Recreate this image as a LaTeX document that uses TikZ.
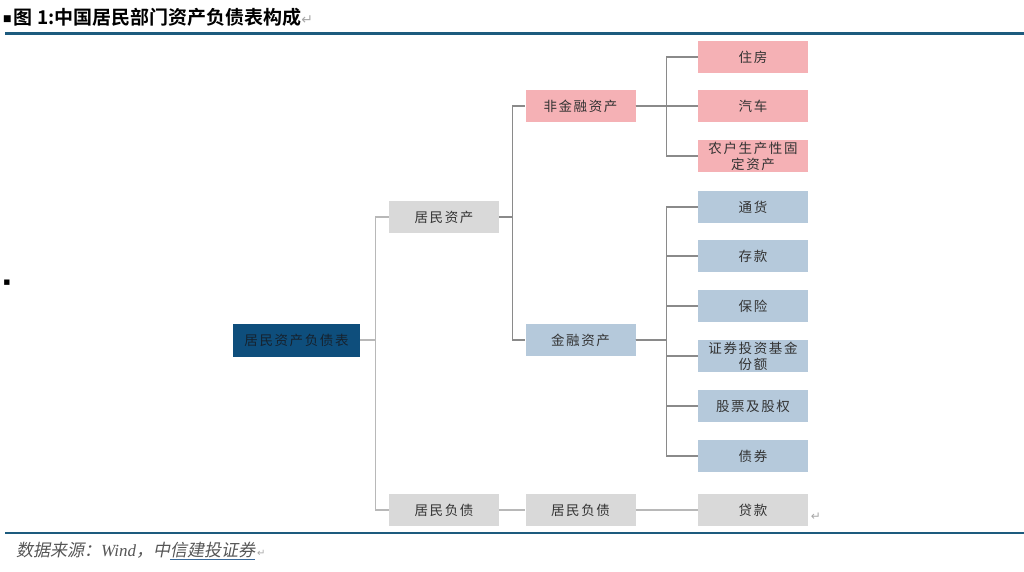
\documentclass[tikz,border=0pt]{standalone}
\usepackage{fontspec}
\usepackage{xcolor}
\usepackage{tikz}
\setmainfont{Noto Sans CJK SC}
\newfontfamily\cjk[BoldFont={Noto Sans CJK SC Bold}]{Noto Sans CJK SC}
\newfontfamily\boxfont[LetterSpace=12]{Noto Sans CJK SC}
\newfontfamily\srcfont[FakeSlant=0.2]{Noto Sans CJK SC}
\newfontfamily\serif{Liberation Serif}
\newfontfamily\symfont{DejaVu Sans}

\definecolor{rootblue}{HTML}{0E4E7C}
\definecolor{boxgray}{HTML}{D9D9D9}
\definecolor{boxpink}{HTML}{F5B1B5}
\definecolor{boxblue}{HTML}{B5C9DB}
\definecolor{rulecol}{HTML}{1D5B7E}
\definecolor{markgray}{HTML}{A8A8A8}
\definecolor{linkgray}{HTML}{8A8A8A}
\definecolor{linklight}{HTML}{B8B8B8}
\definecolor{textdark}{HTML}{333333}
\definecolor{rootText}{HTML}{16222E}
\definecolor{srcgray}{HTML}{555555}
\definecolor{ulblue}{HTML}{3A6A9A}

\begin{document}
\begin{tikzpicture}[x=1pt,y=-1pt]
		\tikzstyle{box}=[minimum width=110pt,minimum height=32pt,inner sep=0pt,text=textdark,align=center,font=\boxfont\fontsize{13.5}{16}\selectfont]
		\tikzstyle{graybox}=[box,fill=boxgray]
		\tikzstyle{pinkbox}=[box,fill=boxpink]
		\tikzstyle{bluebox}=[box,fill=boxblue]
		\tikzstyle{rootbox}=[box,fill=rootblue,text=rootText,minimum width=127pt,minimum height=33pt]
		\tikzstyle{link}=[draw=linkgray,line width=1.1pt]
		\tikzstyle{linkroot}=[draw=linklight,line width=1.1pt]
		\tikzstyle{parmark}=[text=markgray,inner sep=0pt,font=\symfont\fontsize{12}{12}\selectfont]
		\tikzset{fork/.style={to path={-- ++(#1,0) |- (\tikztotarget)}}}

		\useasboundingbox (0,0) rectangle (1024,571);

		% title and rules
		\node [anchor=west,inner sep=0pt,font=\cjk\bfseries\fontsize{19}{21}\selectfont] (title) at (3,17) {\raisebox{3pt}{\symfont\fontsize{9}{9}\selectfont■}\hspace{2pt}图 1:中国居民部门资产负债表构成{\symfont\mdseries\color{markgray}\fontsize{14}{14}\selectfont↵}};
		\draw [rulecol,line width=3pt] (5,33.5) to (1024,33.5);
		\draw [rulecol,line width=2pt] (5,533) to (1024,533);
		\node [anchor=west,inner sep=0pt,text=srcgray,font=\srcfont\fontsize{17}{19}\selectfont] (source) at (16,551) {数据来源：{\serif\itshape Wind}，中{\color{ulblue}\underline{\color{srcgray}信建投证券}}\hspace{2pt}{\symfont\upshape\color{markgray}\fontsize{10}{10}\selectfont↵}};
		\node [inner sep=0pt,font=\symfont\fontsize{7}{7}\selectfont] (dot) at (7,283) {■};
		\node [parmark] (endmark) at (816,517) {↵};

		% boxes
		\node [rootbox] (root) at (296.5,340) {居民资产负债表};
		\node [graybox] (asset) at (444,217) {居民资产};
		\node [graybox] (debt) at (444,510) {居民负债};
		\node [pinkbox] (nonfin) at (580.5,106) {非金融资产};
		\node [bluebox] (fin) at (580.5,340) {金融资产};
		\node [graybox] (debtb) at (580.5,510) {居民负债};

		\node [pinkbox] (house) at (753,57) {住房};
		\node [pinkbox] (car) at (753,106) {汽车};
		\node [pinkbox] (farm) at (753,156) {农户生产性固\\定资产};
		\node [bluebox] (cash) at (753,207) {通货};
		\node [bluebox] (deposit) at (753,256) {存款};
		\node [bluebox] (insure) at (753,306) {保险};
		\node [bluebox] (fund) at (753,356) {证券投资基金\\份额};
		\node [bluebox] (stock) at (753,406) {股票及股权};
		\node [bluebox] (bond) at (753,456) {债券};
		\node [graybox] (loan) at (753,510) {贷款};

		% connectors
		\draw [linkroot] (root.east) to [fork=15] (asset.west);
		\draw [linkroot] (root.east) to [fork=15] (debt.west);
		\draw [link] (asset.east) to [fork=13] (nonfin.west);
		\draw [link] (asset.east) to [fork=13] (fin.west);
		\draw [linkroot] (debt.east) to (debtb.west);
		\draw [linkroot] (debtb.east) to (loan.west);
		\draw [link] (nonfin.east) to [fork=31] (house.west);
		\draw [link] (nonfin.east) to [fork=31] (car.west);
		\draw [link] (nonfin.east) to [fork=31] (farm.west);
		\draw [link] (fin.east) to [fork=31] (cash.west);
		\draw [link] (fin.east) to [fork=31] (deposit.west);
		\draw [link] (fin.east) to [fork=31] (insure.west);
		\draw [link] (fin.east) to [fork=31] (fund.west);
		\draw [link] (fin.east) to [fork=31] (stock.west);
		\draw [link] (fin.east) to [fork=31] (bond.west);

	\end{tikzpicture}
\end{document}
